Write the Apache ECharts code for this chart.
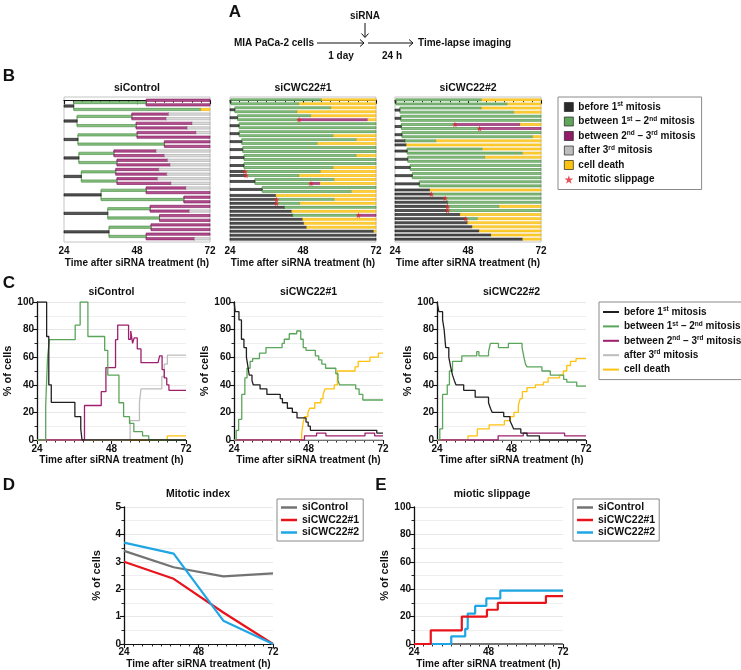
<!DOCTYPE html>
<html>
<head>
<meta charset="utf-8">
<script src="https://cdn.jsdelivr.net/npm/echarts@6/dist/echarts.min.js"></script>
<style>
  html, body { margin: 0; padding: 0; background: #fff; }
  #chart { width: 741px; height: 670px; }
</style>
</head>
<body>
<div id="chart"></div>
<script>
// ---------- data ----------
var stageNames = ['before 1st mitosis', 'between 1st \u2013 2nd mitosis', 'between 2nd \u2013 3rd mitosis', 'after 3rd mitosis', 'cell death'];
var slipName = 'mitotic slippage';
var treatments = ['siControl', 'siCWC22#1', 'siCWC22#2'];

// lineage trees, one entry per tracked cell: [end time, fate]
// fate: none = alive at 72 h, 'd' = dies, [a, b] = divides, 's' = mitotic slippage then cell, 'm' = mitosis, one daughter followed
var treeControl = [
  [27.2, [[51, [[72], [72]]], [69, 'd']]],
  [28.3, [[46.3, [[58.4, 'm', [72]], [57.6, 'm', [72]]]], [47.7, [[66.1, 'm', [72]], [64.5, 'm', [72]]]]]],
  [28.6, [[48, [[67.4, 'm', [72]], [72]]], [57, [[72], [72]]]]],
  [28.9, [[40.4, [[54.3, 'm', [72]], [57, 'm', [72]]]], [41.4, [[58.1, 'm', [72]], [58.9, 'm', [72]]]]]],
  [29.7, [[41, [[55.2, 'm', [72]], [57.8, 'm', [72]]]], [41.4, [[54.8, 'm', [72]], [59.2, 'm', [72]]]]]],
  [36.2, [[51, [[64.1, 'm', [72]], [72]]], [63.4, [[72], [72]]]]],
  [38.4, [[52.3, [[72], [65.2, 'm', [72]]]], [55.4, [[72], [72]]]]],
  [38.8, [[52.6, [[72], [72]]], [51, [[72], [66.9, 'm', [72]]]]]]
];
var treeCWC1 = [
  [24.3, [[54.1, 'd'], [46.7, 'd']]],
  [25.6, [[57.2, 'd'], [46.1, 'd']]],
  [26.5, [[50.6, 'd'], [46.7, 's', [69.3, 'd']]]],
  [27.0, [[72], [72]]],
  [27.0, [[72], [58.0, 'd']]],
  [27.9, [[65.6, 'd'], [52.8, 'd']]],
  [28.2, [[72], [72]]],
  [28.6, [[65.6, 'd'], [72]]],
  [28.6, [[72], [58.0, 'd']]],
  [28.9, 's', [53.8, 'd']],
  [29.3, 's', [46.7, 'd']],
  [32.2, [[58.3, 'd'], [50.6, 's', [53.6, 'd']]]],
  [34.6, [[72], [64.0, 'd']]],
  [39.1, 'd'],
  [39.3, 's', [58.3, 'd']],
  [39.3, 's', [47.0, 'd']],
  [41.9, 'm', [72]],
  [44.3, 'd'],
  [44.6, 'm', [66.2, 's', [72]]],
  [47.9, 'd'], [48.3, 'd'], [49.2, 'd'], [71.3, 'd'], [72], [72]
];
var treeCWC2 = [
  [24.3, [[52.5, 'd'], [61, 'd']]],
  [25.6, [[52.5, 'd'], [63.1, 'd']]],
  [25.9, [[72], [72]]],
  [26.1, [[43.7, 's', [65.1, 'd']], [51.8, 's', [72]]]],
  [26.3, [[72], [69.3, 'd']]],
  [27.3, 'm', [37.5, 'd']],
  [27.8, 'd'],
  [28.0, [[52.8, 'd'], [66, 'd']]],
  [28.2, [[53.6, 'd'], [72]]],
  [29.0, [[72], [72]]],
  [29.7, [[72], [72]]],
  [32.0, [[72], [72]]],
  [35.5, 'd'],
  [36.0, 's', [72]],
  [40.5, 's', [72]],
  [41.3, 'm', [72]],
  [41.3, 's', [58.3, 'd']],
  [41.3, 's', [72]],
  [45.4, 'd'],
  [47.3, 's', [51.2, 'd']],
  [47.9, 'd'], [49.4, 'd'], [51.7, 'd'], [55.6, 'd'], [66, 'd']
];

// panel C: % of cells in each state, [time (h), %]
var ctrlBefore = [[24, 100], [27.1, 75], [27.8, 40], [28.6, 27.3], [36.2, 17], [38.1, 8], [38.5, 0], [72, 0]];
var ctrlFirst = [[24, 0], [26.8, 25], [27.4, 60], [28, 72.7], [36.3, 83.3], [37.9, 100], [40.4, 75], [45.8, 65], [46.8, 47], [50.4, 27], [51.9, 17], [53.8, 12], [55.2, 6], [58, 3], [60, 0], [72, 0]];
var ctrlSecond = [[24, 0], [39.3, 25], [44.7, 35], [46.2, 52.5], [49.3, 72.7], [50, 83.3], [53.5, 73], [54.2, 79], [54.8, 70], [55.3, 74], [56.3, 66], [57.5, 56], [63, 56], [63.5, 61], [64.3, 51], [65, 45], [65.8, 40], [66.5, 36], [72, 36]];
var ctrlThird = [[24, 0], [54, 14], [57, 27], [57.5, 37], [63.5, 37], [64.2, 46], [65, 55], [66, 61.5], [72, 61.5]];
var ctrlDeath = [[24, 0], [66, 3], [72, 3]];

var cwc1Before = [[24, 100], [24.4, 93], [25.6, 87], [26.4, 73], [27.2, 67], [28, 60], [28.5, 53], [28.9, 47], [29.8, 43], [30.2, 40], [32.4, 37], [34.6, 33], [38.9, 30], [39.6, 27], [41.2, 23], [42.8, 20], [44.3, 16], [47.2, 13], [47.9, 10], [48.6, 7], [70, 5], [72, 5]];
var cwc1First = [[24, 0], [24.7, 7], [25.5, 15], [26.5, 33], [27.5, 45], [28.2, 52], [29.2, 57], [30, 59], [32.2, 63], [34.3, 67], [39.5, 70], [40.2, 73], [41.8, 77], [44.2, 79], [45.5, 73], [46.3, 67], [47.2, 65], [50.2, 61], [51.3, 58], [52.3, 55], [53.5, 52], [56.8, 48], [57.5, 43], [58, 40], [63.2, 37], [64.3, 33], [65.5, 29], [72, 29]];
var cwc1Second = [[24, 0], [46.7, 3], [50.6, 5], [53.6, 3], [66.2, 5], [69.3, 3], [72, 3]];
var cwc1Third = [[24, 0], [72, 0]];
var cwc1Death = [[24, 0], [45.8, 5], [46.3, 13], [46.8, 17], [47.8, 20], [48.4, 23], [50, 27], [52, 30], [52.7, 33], [53.3, 37], [56.3, 40], [57.3, 50], [63, 53], [64, 57], [67.8, 60], [70.5, 63], [72, 63]];

var cwc2Before = [[24, 100], [24.6, 93], [25.8, 87], [26.3, 80], [26.8, 67], [27.8, 60], [28.4, 53], [29, 47], [29.6, 43], [30.1, 40], [32.6, 36], [36.3, 31], [40.6, 27], [41.2, 23], [41.8, 20], [45.5, 17], [47.5, 14], [48.1, 11], [48.7, 8], [51, 5], [53, 3], [57, 0], [72, 0]];
var cwc2First = [[24, 0], [24.9, 8], [25.8, 33], [27.3, 40], [28, 50], [29, 57], [32, 61], [36.8, 64], [37.5, 61], [40.6, 64], [41.2, 70], [43.8, 67], [47, 70], [51.4, 67], [52, 60], [52.5, 55], [53, 53], [57.8, 50], [60.5, 47], [64.8, 44], [65.8, 42], [69, 39], [72, 39]];
var cwc2Second = [[24, 0], [43.7, 3], [51.8, 5], [65.1, 3], [72, 3]];
var cwc2Third = [[24, 0], [72, 0]];
var cwc2Death = [[24, 0], [34, 3], [37, 8], [40.8, 11], [45.7, 14], [47.6, 17], [48.8, 20], [50.2, 25], [50.8, 30], [51.5, 35], [53, 38], [55.7, 40], [58.3, 42], [59.8, 45], [63.5, 47], [64.7, 50], [65.8, 54], [67, 57], [68.8, 59], [72, 59]];

// panel D: mitotic index (%)
var mitoticTime = [24, 40, 56, 72];
var mitoticCtrl = [3.4, 2.8, 2.47, 2.58];
var mitoticCWC1 = [3.0, 2.38, 1.15, 0];
var mitoticCWC2 = [3.7, 3.3, 0.85, 0];

// panel E: cumulative mitotic slippage (%)
var slipCtrl = [[24, 0], [72, 0]];
var slipCWC1 = [[24, 0], [29.4, 10], [39.4, 20], [47.5, 25], [51, 30], [66.5, 35], [72, 35]];
var slipCWC2 = [[24, 0], [36, 5.6], [40.5, 11.1], [41.3, 22.2], [43.7, 27.8], [47.3, 33.3], [51.8, 38.9], [72, 38.9]];

// ---------- styles ----------
var FONT = '"Liberation Sans", Arial, Helvetica, sans-serif';
var INK = '#111';
var stageFill = ['#555555', '#86bf7f', '#b4508e', '#dcdcdc', '#ffd23a'];
var stageLine = ['#111111', '#44893f', '#7a1257', '#a5a5a5', '#eeb000'];
var legendFill = ['#2a2a2a', '#5fa55a', '#931c69', '#bdbdbd', '#ffc20e'];
var curveColor = ['#231f20', '#5aa55a', '#9e1f6e', '#bdbdbd', '#ffc20e'];
var treatColor = ['#737373', '#e8141c', '#1fa6e4'];
var STAR = 'path://M50,0 L61,35 L98,35 L68,57 L79,91 L50,70 L21,91 L32,57 L2,35 L39,35 Z';

function layoutTree(roots) {
  var segs = [[], [], [], [], []], links = [], stars = [], n = 0;
  function place(cell, gen, t0) {
    var end = cell[0], fate = cell[1], r;
    if (Array.isArray(fate)) {
      var rows = fate.map(function (c) { return place(c, gen + 1, end); });
      r = (rows[0] + rows[rows.length - 1]) / 2;
      links.push([end, rows[0], rows[rows.length - 1], Math.min(gen + 1, 3)]);
    } else if (fate === 's' || fate === 'm') {
      r = place(cell[2], gen + 1, end);
      if (fate === 's') stars.push([end, r]);
      else links.push([end, r - 0.4, r + 0.4, Math.min(gen + 1, 3)]);
    } else {
      r = n++;
      if (fate === 'd') segs[4].push([end, 72, r]);
    }
    segs[Math.min(gen, 3)].push([t0, end, r]);
    return r;
  }
  roots.forEach(function (c) { place(c, 0, 24); });
  return { segs: segs, links: links, stars: stars, rows: n };
}

function supFmt(name) { return name.replace(/(\d)(st|nd|rd)/g, '$1{sup|$2}'); }

function timeAxis(gi, gap, margin) {
  return {
    type: 'value', gridIndex: gi, min: 24, max: 72, interval: 24,
    name: 'Time after siRNA treatment (h)', nameLocation: 'middle', nameGap: gap,
    nameTextStyle: { fontFamily: FONT, fontWeight: 'bold', color: INK, fontSize: 10 },
    axisLine: { show: true, lineStyle: { color: INK, width: 1.2 } },
    axisTick: { show: true, length: 4, lineStyle: { color: INK, width: 1.1 } },
    minorTick: { show: true, splitNumber: 8, length: 2.5, lineStyle: { color: INK, width: 0.9 } },
    axisLabel: { fontFamily: FONT, fontWeight: 'bold', color: INK, fontSize: 10, margin: margin },
    splitLine: { show: false }
  };
}
function pctAxis(gi, max, interval) {
  return {
    type: 'value', gridIndex: gi, min: 0, max: max, interval: interval,
    name: '% of cells', nameLocation: 'middle', nameGap: 22,
    nameTextStyle: { fontFamily: FONT, fontWeight: 'bold', color: INK, fontSize: 11 },
    axisLine: { show: true, lineStyle: { color: INK, width: 1.3 } },
    axisTick: { show: true, length: 4, lineStyle: { color: INK, width: 1.1 } },
    minorTick: { show: true, splitNumber: 2, length: 2.5, lineStyle: { color: INK, width: 0.9 } },
    axisLabel: { fontFamily: FONT, fontWeight: 'bold', color: INK, fontSize: 10, margin: 3 },
    splitLine: { show: true, lineStyle: { color: '#e8e8e8', width: 1 } },
    minorSplitLine: { show: true, lineStyle: { color: '#efefef', width: 1 } }
  };
}

var grids = [], xAxes = [], yAxes = [], series = [];
var treeLeft = [64, 230, 395];
var curveLeft = [37, 234, 437];
var trees = [treeControl, treeCWC1, treeCWC2].map(layoutTree);

// panel B
trees.forEach(function (tr, i) {
  grids.push({ left: treeLeft[i], top: 97, width: 146, height: 145, show: true, borderColor: '#c4c4c4', borderWidth: 1 });
  xAxes.push(timeAxis(i, 16, 4));
  yAxes.push({ type: 'value', gridIndex: i, min: -0.7, max: tr.rows - 0.3, inverse: true, show: false });
  series.push({
    type: 'custom', xAxisIndex: i, yAxisIndex: i, data: tr.links, silent: true,
    encode: { x: 0, y: [1, 2] },
    renderItem: function (params, api) {
      var a = api.coord([api.value(0), api.value(1)]);
      var b = api.coord([api.value(0), api.value(2)]);
      return { type: 'line', shape: { x1: a[0], y1: a[1], x2: b[0], y2: b[1] },
        style: { stroke: stageLine[api.value(3)], lineWidth: 0.9 } };
    }
  });
  tr.segs.forEach(function (data, s) {
    series.push({
      type: 'custom', name: stageNames[s], xAxisIndex: i, yAxisIndex: i, data: data, silent: true,
      itemStyle: { color: legendFill[s] },
      encode: { x: [0, 1], y: 2 },
      renderItem: function (params, api) {
        var a = api.coord([api.value(0), api.value(2)]);
        var b = api.coord([api.value(1), api.value(2)]);
        var h = Math.max(Math.abs(api.size([0, 1])[1]) * 0.5, 1.6);
        return { type: 'rect', shape: { x: a[0], y: a[1] - h / 2, width: Math.max(b[0] - a[0], 0.5), height: h },
          style: { fill: stageFill[s], stroke: stageLine[s], lineWidth: 0.6 } };
      }
    });
  });
  series.push({
    type: 'scatter', name: slipName, xAxisIndex: i, yAxisIndex: i, data: tr.stars, silent: true,
    symbol: STAR, symbolSize: 6, itemStyle: { color: '#e0262f' }, z: 5
  });
});

// panel C
var curves = [
  [ctrlBefore, ctrlFirst, ctrlSecond, ctrlThird, ctrlDeath],
  [cwc1Before, cwc1First, cwc1Second, cwc1Third, cwc1Death],
  [cwc2Before, cwc2First, cwc2Second, cwc2Third, cwc2Death]
];
var drawOrder = [4, 3, 2, 1, 0];
curves.forEach(function (set, i) {
  var gi = 3 + i;
  grids.push({ left: curveLeft[i], top: 302, width: 149, height: 138 });
  xAxes.push(timeAxis(gi, 14, 4));
  yAxes.push(pctAxis(gi, 100, 20));
  drawOrder.forEach(function (s) {
    series.push({
      type: 'line', name: stageNames[s], xAxisIndex: gi, yAxisIndex: gi, data: set[s],
      step: 'end', showSymbol: false, silent: true,
      lineStyle: { color: curveColor[s], width: 1.3 }, itemStyle: { color: curveColor[s] }
    });
  });
});

// panel D
grids.push({ left: 124, top: 507, width: 149, height: 138 });
xAxes.push(timeAxis(6, 15, 3));
yAxes.push(pctAxis(6, 5, 1));
[mitoticCtrl, mitoticCWC1, mitoticCWC2].forEach(function (vals, k) {
  series.push({
    type: 'line', name: treatments[k], xAxisIndex: 6, yAxisIndex: 6, silent: true,
    data: vals.map(function (v, j) { return [mitoticTime[j], v]; }),
    showSymbol: false, lineStyle: { color: treatColor[k], width: 2.2 }, itemStyle: { color: treatColor[k] }
  });
});

// panel E
grids.push({ left: 414, top: 507, width: 149, height: 138 });
xAxes.push(timeAxis(7, 15, 3));
yAxes.push(pctAxis(7, 100, 20));
[[slipCtrl, 0], [slipCWC2, 2], [slipCWC1, 1]].forEach(function (p) {
  series.push({
    type: 'line', name: treatments[p[1]], xAxisIndex: 7, yAxisIndex: 7, data: p[0], step: 'end',
    showSymbol: false, silent: true,
    lineStyle: { color: treatColor[p[1]], width: 2.2 }, itemStyle: { color: treatColor[p[1]] }
  });
});

// legends
var legendText = {
  fontFamily: FONT, fontWeight: 'bold', color: INK, fontSize: 10, lineHeight: 12,
  rich: { sup: { fontFamily: FONT, fontWeight: 'bold', color: INK, fontSize: 6.5, verticalAlign: 'top' } }
};
var legends = [
  {
    selectedMode: false, orient: 'vertical', left: 558, top: 97, padding: [4, 6, 4, 6],
    itemGap: 2.5, itemWidth: 9, itemHeight: 9, borderColor: '#8a8a8a', borderWidth: 1,
    itemStyle: { borderColor: '#222', borderWidth: 0.7 },
    textStyle: legendText, formatter: supFmt,
    data: stageNames.map(function (n, s) { return { name: n, icon: 'rect', itemStyle: { color: legendFill[s] } }; })
      .concat([{ name: slipName, icon: STAR, itemStyle: { borderWidth: 0 } }])
  },
  {
    selectedMode: false, orient: 'vertical', left: 599, top: 302, padding: [4, 6, 4, 4],
    itemGap: 2.4, itemWidth: 16, itemHeight: 2, borderColor: '#8a8a8a', borderWidth: 1,
    itemStyle: { borderWidth: 0 }, textStyle: legendText, formatter: supFmt,
    data: stageNames.map(function (n, s) { return { name: n, icon: 'rect', itemStyle: { color: curveColor[s] } }; })
  }
];
[277, 573].forEach(function (x) {
  legends.push({
    selectedMode: false, orient: 'vertical', left: x, top: 499, padding: [3, 4, 3, 4],
    itemGap: 1.5, itemWidth: 16, itemHeight: 2.5, borderColor: '#8a8a8a', borderWidth: 1,
    itemStyle: { borderWidth: 0 },
    textStyle: { fontFamily: FONT, fontWeight: 'bold', color: INK, fontSize: 10.5, lineHeight: 11 },
    data: treatments.map(function (n, k) { return { name: n, icon: 'rect', itemStyle: { color: treatColor[k] } }; })
  });
});

// annotations: panel letters, titles, scheme of panel A
function label(text, x, y, size, align) {
  return { type: 'text', x: x, y: y, silent: true,
    style: { text: text, fill: INK, fontFamily: FONT, fontWeight: 'bold', fontSize: size,
      align: align || 'center', textAlign: align || 'center', verticalAlign: 'middle', textVerticalAlign: 'middle' } };
}
function seg(x1, y1, x2, y2) {
  return { type: 'line', silent: true, shape: { x1: x1, y1: y1, x2: x2, y2: y2 }, style: { stroke: INK, lineWidth: 1 } };
}
function head(pts) {
  return { type: 'polyline', silent: true, shape: { points: pts }, style: { stroke: INK, fill: null, lineWidth: 1 } };
}
var graphics = [
  label('A', 235, 12, 17), label('B', 9, 76, 17), label('C', 9, 283, 17), label('D', 9, 485, 17), label('E', 381, 485, 17),
  label('siRNA', 365, 16, 10),
  seg(365, 23, 365, 37), head([[361.5, 33.5], [365, 37.5], [368.5, 33.5]]),
  label('MIA PaCa-2 cells', 314, 43, 10, 'right'),
  seg(317, 43, 364, 43), head([[360, 39.5], [364, 43], [360, 46.5]]),
  seg(368, 43, 413, 43), head([[409, 39.5], [413, 43], [409, 46.5]]),
  label('Time-lapse imaging', 418, 43, 10, 'left'),
  label('1 day', 341, 56, 10), label('24 h', 392, 56, 10),
  label('Mitotic index', 198, 494, 10.5), label('miotic slippage', 492, 494, 10.5)
];
treatments.forEach(function (t, i) {
  graphics.push(label(t, treeLeft[i] + 73, 88, 10.5));
  graphics.push(label(t, curveLeft[i] + 74.5, 292, 10.5));
});

var chart = echarts.init(document.getElementById('chart'), null, { renderer: 'canvas' });
chart.setOption({
  animation: false,
  textStyle: { fontFamily: FONT },
  grid: grids,
  xAxis: xAxes,
  yAxis: yAxes,
  legend: legends,
  graphic: graphics,
  series: series
});
</script>
</body>
</html>
